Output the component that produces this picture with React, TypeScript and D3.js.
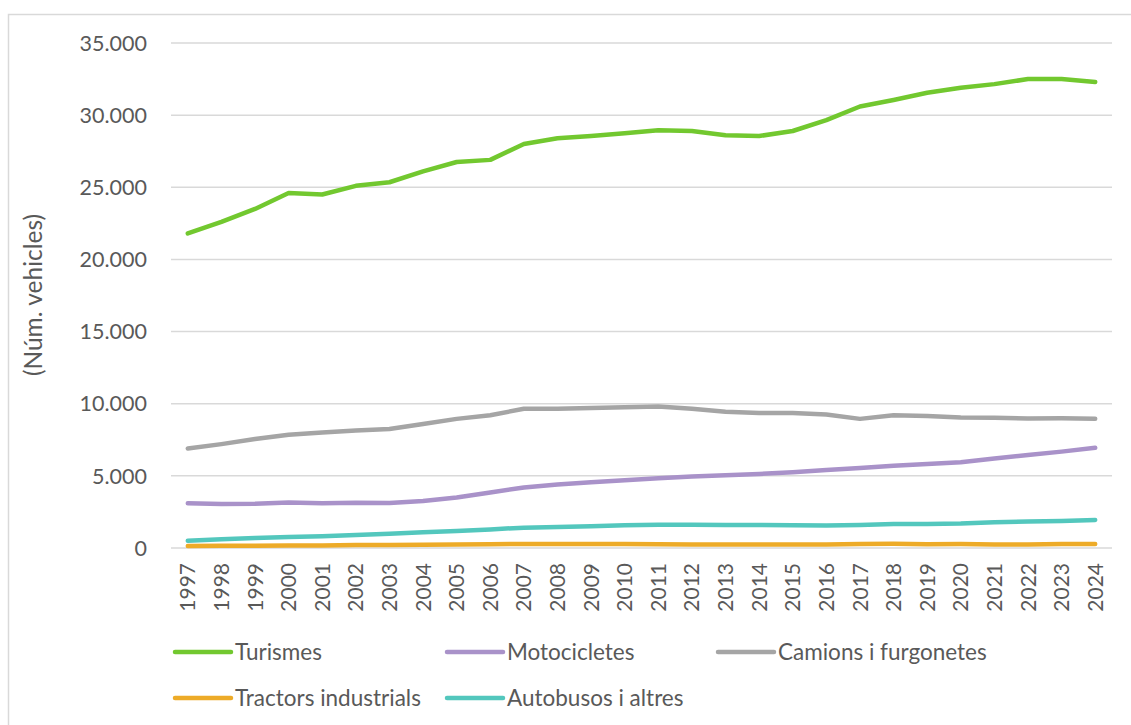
import React from "react";
import * as d3 from "d3";

const years = d3.range(1997, 2025).map(String);

const turismes = [21800, 22600, 23500, 24600, 24500, 25100, 25350, 26100, 26750, 26900, 28000, 28400, 28550, 28750, 28950, 28900, 28600, 28550, 28900, 29650, 30600, 31050, 31550, 31900, 32150, 32500, 32500, 32300];
const motocicletes = [3100, 3050, 3070, 3150, 3100, 3140, 3120, 3250, 3500, 3850, 4200, 4400, 4550, 4700, 4830, 4950, 5050, 5130, 5250, 5400, 5550, 5700, 5820, 5950, 6200, 6450, 6680, 6950];
const camions = [6900, 7200, 7550, 7850, 8000, 8150, 8250, 8600, 8950, 9200, 9650, 9650, 9700, 9750, 9800, 9650, 9450, 9350, 9350, 9250, 8950, 9200, 9150, 9050, 9030, 8980, 8990, 8960];
const tractors = [140, 150, 160, 170, 180, 200, 210, 230, 250, 260, 280, 280, 280, 280, 260, 250, 250, 250, 250, 250, 270, 290, 260, 270, 250, 250, 270, 280];
const autobusos = [500, 600, 690, 760, 810, 900, 990, 1085, 1180, 1290, 1410, 1455, 1500, 1570, 1620, 1620, 1600, 1590, 1580, 1560, 1600, 1660, 1660, 1690, 1780, 1830, 1870, 1940];

const yTicks = [0, 5000, 10000, 15000, 20000, 25000, 30000, 35000];

const seriesNames = ["Turismes", "Motocicletes", "Camions i furgonetes", "Tractors industrials", "Autobusos i altres"];
const seriesValues = [turismes, motocicletes, camions, tractors, autobusos];
const seriesColors = ["#72C82F", "#A992C9", "#A5A5A5", "#EDAB28", "#53C7BD"];

const FONT = "Lato, 'Open Sans', sans-serif";
const TEXT = "#595959";

export default function App() {
  const W = 1131, H = 725;
  const left = 171, right = 1112, top = 43, bottom = 548;
  const x = d3.scaleBand().domain(years).range([left, right]);
  const y = d3.scaleLinear().domain([0, 35000]).range([bottom, top]);
  const fmt = (v: number) => d3.format(",")(v).replace(/,/g, ".");
  const line = d3.line<number>()
    .x((_, i) => (x(years[i]) as number) + x.bandwidth() / 2)
    .y((d) => y(d));

  const legendPos = [
    { x: 175, y: 652 },
    { x: 447, y: 652 },
    { x: 718, y: 652 },
    { x: 175, y: 698 },
    { x: 447, y: 698 },
  ];

  return (
    <svg width={W} height={H} style={{ position: "absolute", left: 0, top: 0 }} fontFamily={FONT}>
      <rect x={0} y={0} width={W} height={H} fill="#fff" />
      <rect x={8.5} y={14.5} width={W + 10} height={H + 10} fill="#fff" stroke="#D9D9D9" strokeWidth={1.5} />
      {yTicks.map((t) => (
        <g key={t}>
          <line x1={left} x2={right} y1={y(t)} y2={y(t)} stroke="#D9D9D9" strokeWidth={1.5} />
          <text x={147} y={y(t)} dy="0.36em" textAnchor="end" fontSize={21.5} fill={TEXT}>
            {fmt(t)}
          </text>
        </g>
      ))}
      {years.map((yr) => {
        const cx = (x(yr) as number) + x.bandwidth() / 2;
        return (
          <text key={yr} transform={`translate(${cx},563) rotate(-90)`} textAnchor="end" dy="0.36em" fontSize={21} fill={TEXT}>
            {yr}
          </text>
        );
      })}
      <text transform={`translate(33,295) rotate(-90)`} textAnchor="middle" dy="0.36em" fontSize={24.5} fill={TEXT}>
        (Núm. vehicles)
      </text>
      {seriesValues.map((vals, i) => (
        <path key={seriesNames[i]} d={line(vals) || ""} fill="none" stroke={seriesColors[i]} strokeWidth={4.5} strokeLinecap="round" strokeLinejoin="round" />
      ))}
      {seriesNames.map((name, i) => (
        <g key={name}>
          <line x1={legendPos[i].x} x2={legendPos[i].x + 56} y1={legendPos[i].y} y2={legendPos[i].y} stroke={seriesColors[i]} strokeWidth={4.5} strokeLinecap="round" />
          <text x={legendPos[i].x + 60} y={legendPos[i].y} dy="0.36em" fontSize={22.5} fill={TEXT}>
            {name}
          </text>
        </g>
      ))}
    </svg>
  );
}
